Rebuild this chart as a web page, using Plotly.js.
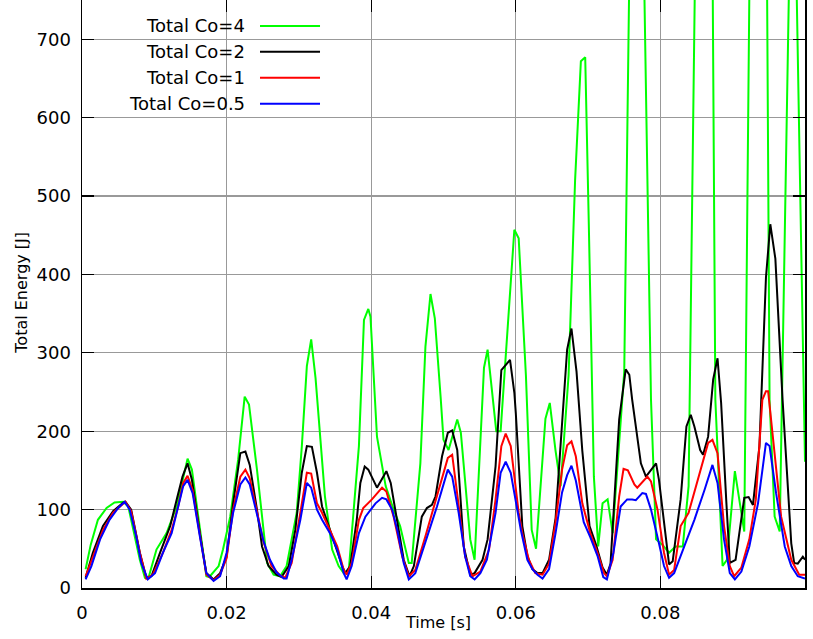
<!DOCTYPE html>
<html>
<head>
<meta charset="utf-8">
<script src="https://cdn.plot.ly/plotly-3.0.1.min.js"></script>
<style>html,body{margin:0;padding:0;background:#fff;}#chart{width:813px;height:639px;}</style>
</head>
<body>
<div id="chart"></div>
<script>
// ---- data ----
var seriesNames = ["Total Co=4", "Total Co=2", "Total Co=1", "Total Co=0.5"];
var seriesColors = ["#00ff00", "#000000", "#ff0000", "#0000ff"];

var timeCo4 = [0.0005,0.0012,0.0022,0.0034,0.0045,0.0057,0.0064,0.008,0.0087,0.0092,0.0103,0.0117,0.0131,0.0146,0.0152,0.0163,0.0172,0.0176,0.0189,0.0195,0.0205,0.0216,0.0225,0.0231,0.0242,0.0256,0.0265,0.0274,0.0283,0.0297,0.0304,0.0311,0.0317,0.0323,0.0336,0.0346,0.0355,0.0362,0.0369,0.0383,0.039,0.0396,0.0399,0.0408,0.042,0.0431,0.044,0.0452,0.0456,0.0468,0.0475,0.0482,0.0488,0.0496,0.05,0.0507,0.0519,0.0524,0.0537,0.0543,0.0556,0.0561,0.0573,0.0579,0.0593,0.0598,0.0604,0.0614,0.0622,0.0628,0.0641,0.0647,0.0655,0.0662,0.0673,0.0682,0.069,0.0696,0.0701,0.0708,0.0714,0.072,0.0727,0.0734,0.075,0.0766,0.0787,0.0794,0.0803,0.0812,0.0821,0.0831,0.0839,0.0864,0.0876,0.0886,0.0892,0.0903,0.0916,0.0938,0.0951,0.0958,0.0965,0.0983,0.1];
var energyCo4 = [24,55,87,102,109,110,104,36,13,13,49,70,104,165,151,79,15,14,28,49,91,164,244,234,151,32,17,15,28,96,180,283,317,268,117,49,28,19,23,181,342,356,346,193,130,100,79,32,32,159,308,375,344,244,189,176,215,198,62,36,281,304,200,200,393,457,446,271,74,50,216,236,175,130,271,520,672,677,463,142,53,108,113,70,276,1430,240,62,55,45,53,53,130,1970,240,28,36,149,72,2220,240,91,72,1045,161];

var timeCo2 = [0.0005,0.0015,0.0029,0.0043,0.0057,0.006,0.0068,0.008,0.0089,0.0096,0.0108,0.0122,0.0131,0.0139,0.0146,0.0152,0.0163,0.0172,0.0182,0.0191,0.02,0.0209,0.0219,0.0226,0.0232,0.0242,0.0249,0.0258,0.0269,0.0276,0.0286,0.0295,0.0304,0.0311,0.0318,0.0325,0.0332,0.0341,0.035,0.036,0.0364,0.0371,0.038,0.0385,0.0391,0.0396,0.0408,0.0421,0.0427,0.0436,0.0445,0.0453,0.0459,0.047,0.0477,0.0484,0.0489,0.0498,0.0506,0.0512,0.0519,0.0528,0.0537,0.0543,0.0554,0.0561,0.0572,0.058,0.0586,0.0592,0.0598,0.06,0.0609,0.0616,0.0623,0.063,0.0637,0.0646,0.0655,0.0671,0.0677,0.0684,0.0692,0.0702,0.0711,0.072,0.0726,0.0731,0.0743,0.0752,0.0757,0.0761,0.0773,0.078,0.0794,0.0798,0.0812,0.0817,0.0828,0.0836,0.0842,0.0847,0.0855,0.0859,0.0866,0.0873,0.0879,0.0884,0.0891,0.0896,0.0904,0.0916,0.0922,0.0928,0.0937,0.0946,0.0952,0.0959,0.0969,0.0981,0.0985,0.099,0.0997,0.1];
var energyCo2 = [13,45,79,98,109,110,100,45,13,15,45,79,113,142,159,138,70,19,11,19,40,108,172,174,157,100,53,28,17,14,28,74,147,181,180,147,104,79,57,28,19,28,87,134,155,151,128,149,134,87,36,15,28,91,102,106,117,168,198,201,176,53,17,19,36,62,155,278,285,291,249,223,79,41,24,19,19,36,89,304,331,276,175,79,55,26,17,31,215,279,272,240,159,142,159,138,30,34,113,206,221,206,176,170,193,266,293,236,113,32,36,115,116,106,181,396,464,420,240,57,32,31,40,36];

var timeCo1 = [0.0005,0.0015,0.0029,0.0043,0.0057,0.006,0.0068,0.008,0.0089,0.0098,0.0112,0.0124,0.0133,0.014,0.0146,0.0153,0.0163,0.0172,0.0182,0.0191,0.02,0.0209,0.0219,0.0226,0.0232,0.0242,0.0251,0.0262,0.0274,0.0281,0.029,0.0302,0.0311,0.0317,0.0325,0.0332,0.0343,0.0353,0.0362,0.0366,0.0373,0.0383,0.0389,0.0401,0.0415,0.0421,0.0431,0.0443,0.0452,0.0461,0.0475,0.0491,0.0506,0.0512,0.052,0.053,0.054,0.0551,0.0563,0.0572,0.058,0.0586,0.0593,0.0604,0.0609,0.0618,0.0627,0.0637,0.0646,0.0655,0.0664,0.0671,0.0677,0.0683,0.0692,0.0703,0.0713,0.0722,0.0726,0.0734,0.0743,0.0749,0.0755,0.0764,0.0768,0.0778,0.0782,0.0787,0.0796,0.0805,0.0812,0.0819,0.0828,0.0839,0.0855,0.0866,0.0872,0.0879,0.0888,0.0896,0.0902,0.0912,0.0923,0.0932,0.0941,0.0946,0.0949,0.0959,0.0967,0.0981,0.0992,0.1];
var energyCo1 = [15,40,74,96,108,110,98,45,12,17,45,74,104,134,143,125,68,17,10,17,38,100,142,151,140,98,59,28,16,13,32,96,147,146,108,96,74,53,23,17,32,87,102,113,128,123,91,40,15,23,66,117,166,170,113,40,15,21,49,113,181,197,181,96,70,36,19,17,31,84,151,182,187,168,108,70,45,19,15,36,117,152,150,132,128,139,142,136,100,45,17,23,79,96,147,185,189,172,79,28,15,26,62,113,240,251,251,160,91,36,17,17];

var timeCo05 = [0.0005,0.0013,0.0025,0.0038,0.005,0.0059,0.0066,0.0075,0.0082,0.0091,0.0101,0.0112,0.0124,0.0131,0.014,0.0146,0.0153,0.0163,0.0172,0.0182,0.0191,0.02,0.0209,0.0219,0.0226,0.0232,0.0242,0.0251,0.026,0.0269,0.0279,0.0283,0.029,0.0302,0.0311,0.0317,0.0325,0.0332,0.0343,0.0353,0.0362,0.0366,0.0373,0.0383,0.0392,0.0406,0.0415,0.0421,0.0429,0.0436,0.0445,0.0452,0.0461,0.0473,0.0491,0.0506,0.0512,0.0521,0.053,0.0537,0.0543,0.0551,0.056,0.0572,0.0579,0.0586,0.0593,0.0607,0.0616,0.0623,0.063,0.0637,0.0646,0.0655,0.0664,0.0671,0.0677,0.0683,0.0694,0.0703,0.0713,0.0721,0.0726,0.0735,0.0745,0.0754,0.0761,0.0766,0.0775,0.078,0.0787,0.0798,0.0805,0.0812,0.0819,0.0833,0.0847,0.0861,0.087,0.0872,0.0879,0.0888,0.0896,0.0903,0.0912,0.0923,0.0935,0.0946,0.0951,0.096,0.0972,0.0981,0.099,0.1];
var energyCo05 = [11,28,62,87,102,110,100,66,32,11,19,45,70,96,130,138,121,66,19,9,15,45,96,132,141,132,96,60,36,20,12,12,36,87,134,128,100,87,70,49,19,11,28,70,91,108,115,113,100,74,32,11,19,53,104,151,142,96,40,15,11,19,36,96,147,161,147,74,36,24,17,12,24,70,122,144,156,137,84,65,41,14,11,45,104,113,113,112,121,120,100,57,28,13,19,53,87,125,153,157,134,62,19,11,21,53,108,185,181,121,53,28,15,12];

var xTickVals = [0, 0.02, 0.04, 0.06, 0.08, 0.1];
var xTickText = ["0", "0.02", "0.04", "0.06", "0.08", "0.1"];
var yTickVals = [0, 100, 200, 300, 400, 500, 600, 700];
var xTitle = "Time [s]";
var yTitle = "Total Energy [J]";

// ---- figure ----
var FONT = "DejaVu Sans, Liberation Sans, sans-serif";
var xs = [timeCo4, timeCo2, timeCo1, timeCo05];
var ys = [energyCo4, energyCo2, energyCo1, energyCo05];
var traces = xs.map(function (x, i) {
  return {
    type: "scatter", mode: "lines", x: x, y: ys[i], name: seriesNames[i],
    line: {color: seriesColors[i], width: 2}, showlegend: false, cliponaxis: true
  };
});

// legend drawn by hand: text right of which the sample line sits
var legX0 = 0.2462, legX1 = 0.3292, legTextX = 0.2282;
var legRows = [0.9558, 0.9121, 0.8679, 0.8236];
var shapes = [{
  type: "rect", xref: "paper", yref: "paper", x0: 0.002, x1: 0.3458, y0: 0.812, y1: 0.998,
  fillcolor: "#ffffff", line: {width: 0}, layer: "between"
}];
var annotations = [];
seriesNames.forEach(function (nm, i) {
  shapes.push({type: "line", xref: "paper", yref: "paper", x0: legX0, x1: legX1,
    y0: legRows[i], y1: legRows[i], line: {color: seriesColors[i], width: 2}, layer: "above"});
  annotations.push({xref: "paper", yref: "paper", x: legTextX, y: legRows[i], text: nm,
    showarrow: false, xanchor: "right", yanchor: "middle", font: {family: FONT, size: 18, color: "#000"}});
});
annotations.push({xref: "paper", yref: "paper", x: 0.4924, y: -0.0595, text: xTitle, showarrow: false,
  xanchor: "center", yanchor: "middle", font: {family: FONT, size: 16, color: "#000"}});
annotations.push({xref: "paper", yref: "paper", x: -0.0848, y: 0.5017, text: yTitle, showarrow: false,
  textangle: -90, xanchor: "center", yanchor: "middle", font: {family: FONT, size: 16, color: "#000"}});

var axisCommon = {
  showline: true, linecolor: "#000", linewidth: 1.5, mirror: "ticks",
  ticks: "inside", ticklen: 12, tickwidth: 1.2, tickcolor: "#000",
  showgrid: true, gridcolor: "#999999", gridwidth: 1.2, zeroline: false,
  tickfont: {family: FONT, size: 18, color: "#000"}, automargin: false, fixedrange: true
};
var layout = {
  width: 813, height: 639,
  margin: {l: 82, r: 8, t: 0, b: 51, pad: 0},
  paper_bgcolor: "#fff", plot_bgcolor: "#fff",
  showlegend: false,
  xaxis: Object.assign({}, axisCommon, {range: [0, 0.1], tickmode: "array", tickvals: xTickVals, ticktext: xTickText, ticklabelstandoff: 8}),
  yaxis: Object.assign({}, axisCommon, {range: [0, 750], tickmode: "array", tickvals: yTickVals, ticklabelstandoff: 6}),
  shapes: shapes,
  annotations: annotations
};
Plotly.newPlot("chart", traces, layout, {staticPlot: true, displayModeBar: false});
</script>
</body>
</html>
